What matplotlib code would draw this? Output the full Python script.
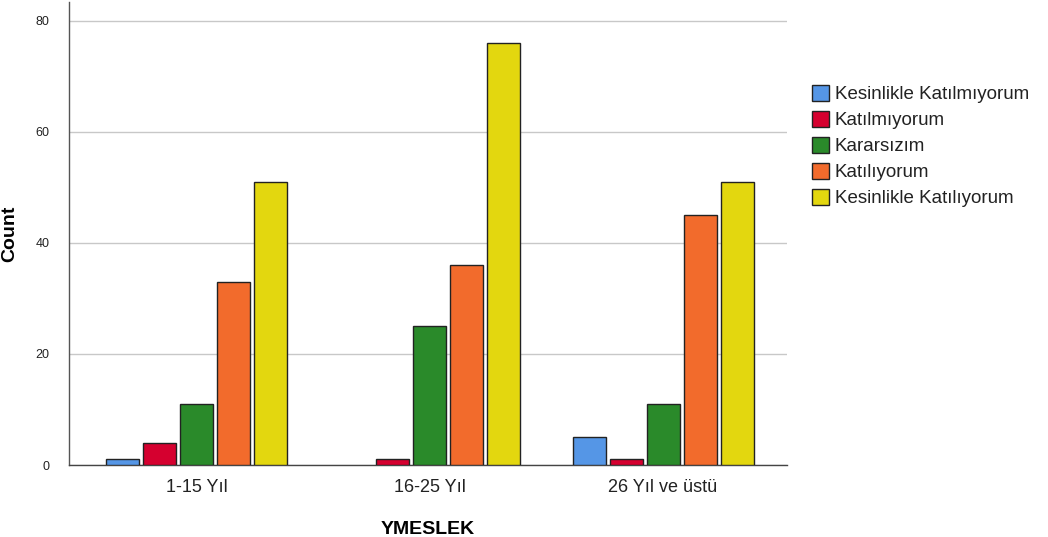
import matplotlib
matplotlib.use("Agg")
import matplotlib.pyplot as plt
import numpy as np

plt.rcParams['font.family'] = ['Liberation Sans', 'DejaVu Sans']

groups = ["1-15 Yıl", "16-25 Yıl", "26 Yıl ve üstü"]
series = ["Kesinlikle Katılmıyorum", "Katılmıyorum", "Kararsızım", "Katılıyorum", "Kesinlikle Katılıyorum"]
values = {
    "Kesinlikle Katılmıyorum": [1, 0, 5],
    "Katılmıyorum": [4, 1, 1],
    "Kararsızım": [11, 25, 11],
    "Katılıyorum": [33, 36, 45],
    "Kesinlikle Katılıyorum": [51, 76, 51],
}
colors = ["#5596E6", "#D5002F", "#2A8A2A", "#F26B2C", "#E3D70F"]
yticks = [0, 20, 40, 60, 80]

W, H = 1048, 537
fig = plt.figure(figsize=(W / 100, H / 100), dpi=100)
ax = fig.add_axes([69 / W, 1 - 465 / H, (787 - 69) / W, (465 - 2) / H])

x = np.arange(len(groups))
step = 37 / 233
width = 33 / 233
handles = []
for i, (name, c) in enumerate(zip(series, colors)):
    vals = np.array(values[name], dtype=float)
    xs = x + (i - 2) * step
    mask = vals > 0
    b = ax.bar(xs[mask], vals[mask], width=width, color=c, edgecolor="#222222",
               linewidth=1.0, zorder=3, label=name)
    handles.append(b)

ax.set_xlim(-0.549, 2.532)
ax.set_ylim(0, 83.4)
ax.set_yticks(yticks)
ax.set_xticks(x)
ax.set_xticklabels(groups, fontsize=13, color="#222222")
ax.tick_params(axis="y", labelsize=9, length=0, pad=14, labelcolor="#222222")
ax.tick_params(axis="x", length=0, pad=10)
ax.yaxis.grid(True, color="#c8c8c8", linewidth=1.0, zorder=0)
ax.set_axisbelow(True)
for s in ["top", "right"]:
    ax.spines[s].set_visible(False)
ax.spines["left"].set_color("#555555")
ax.spines["bottom"].set_color("#444444")
ax.spines["left"].set_linewidth(1.0)
ax.spines["bottom"].set_linewidth(1.0)

ax.set_ylabel("Count", fontsize=14, fontweight="bold")
ax.yaxis.set_label_coords((18 - 69) / 718, (465 - 234) / 463)
ax.set_xlabel("YMESLEK", fontsize=14, fontweight="bold", labelpad=18)

leg = fig.legend(handles=handles, labels=series, loc="upper left",
                 bbox_to_anchor=(804 / W, 1 - 77 / H), frameon=False,
                 fontsize=13.5, handlelength=0.95, handleheight=0.95,
                 handletextpad=0.3, labelspacing=0.4, borderaxespad=0)
for t in leg.get_texts():
    t.set_color("#222222")

fig.savefig("out.png", dpi=100)
